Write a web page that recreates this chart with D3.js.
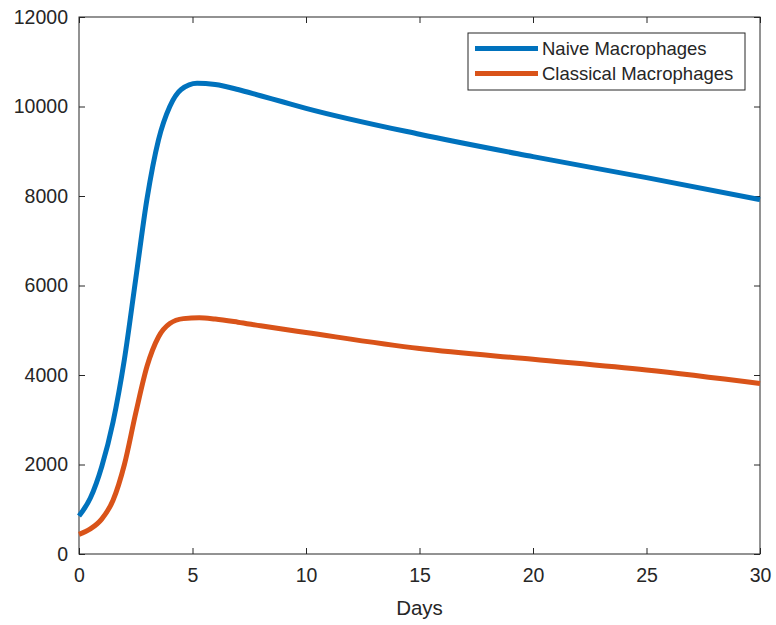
<!DOCTYPE html>
<html>
<head>
<meta charset="utf-8">
<script src="https://cdn.jsdelivr.net/npm/d3@7"></script>
<style>
  body { margin: 0; background: #fff; }
  text { font-family: "Liberation Sans", Arial, sans-serif; fill: #262626; }
</style>
</head>
<body>
<div id="chart"></div>
<script>
// ======= DATA =======
const days      = [0, 0.5, 1.0, 1.5, 2.0, 2.5, 3.0, 3.5, 4.0, 4.5, 5.2, 6.0, 7.0, 8.0, 9.0, 10, 15, 20, 25, 30];
const naive     = [850, 1250, 1950, 2950, 4350, 6150, 7950, 9250, 10000, 10380, 10520, 10490, 10380, 10240, 10100, 9960, 9380, 8880, 8410, 7920];

const daysC     = [0, 0.5, 1.0, 1.5, 2.0, 2.5, 3.0, 3.5, 4.0, 4.6, 5.3, 6.0, 7.0, 8.0, 10, 15, 20, 25, 30];
const classical = [440, 560, 780, 1200, 2000, 3150, 4200, 4850, 5150, 5260, 5280, 5250, 5180, 5100, 4950, 4590, 4350, 4110, 3810];

const xTicks = [0, 5, 10, 15, 20, 25, 30];
const yTicks = [0, 2000, 4000, 6000, 8000, 10000, 12000];

const series = [
  { name: "Naive Macrophages", color: "#0072BD", x: days, y: naive },
  { name: "Classical Macrophages", color: "#D95319", x: daysC, y: classical }
];

// ======= SVG SETUP =======
const width = 776, height = 625;
const margin = { left: 79, right: 16, top: 17, bottom: 71 };

const svg = d3.select("#chart").append("svg")
  .attr("width", width)
  .attr("height", height);

const x = d3.scaleLinear().domain([0, 30]).range([margin.left, width - margin.right]);
const y = d3.scaleLinear().domain([0, 12000]).range([height - margin.bottom, margin.top]);

// box
const axisColor = "#262626";
svg.append("rect")
  .attr("x", x(0)).attr("y", y(12000))
  .attr("width", x(30) - x(0)).attr("height", y(0) - y(12000))
  .attr("fill", "none").attr("stroke", axisColor).attr("stroke-width", 1);

// axes, ticks pointing inward
const tickLen = 6;
svg.append("g")
  .attr("transform", `translate(0,${y(0)})`)
  .call(d3.axisBottom(x).tickValues(xTicks).tickSizeInner(-tickLen).tickSizeOuter(0).tickPadding(14))
  .call(g => g.select(".domain").remove())
  .call(g => g.selectAll("line").attr("stroke", axisColor))
  .call(g => g.selectAll("text").attr("font-size", 19.5).attr("fill", axisColor));

svg.append("g")
  .attr("transform", `translate(0,${y(12000)})`)
  .call(d3.axisTop(x).tickValues(xTicks).tickSizeInner(-tickLen).tickSizeOuter(0).tickFormat(""))
  .call(g => g.select(".domain").remove())
  .call(g => g.selectAll("line").attr("stroke", axisColor));

svg.append("g")
  .attr("transform", `translate(${x(0)},0)`)
  .call(d3.axisLeft(y).tickValues(yTicks).tickSizeInner(-tickLen).tickSizeOuter(0).tickPadding(11).tickFormat(d3.format("d")))
  .call(g => g.select(".domain").remove())
  .call(g => g.selectAll("line").attr("stroke", axisColor))
  .call(g => g.selectAll("text").attr("font-size", 19.5).attr("fill", axisColor));

svg.append("g")
  .attr("transform", `translate(${x(30)},0)`)
  .call(d3.axisRight(y).tickValues(yTicks).tickSizeInner(-tickLen).tickSizeOuter(0).tickFormat(""))
  .call(g => g.select(".domain").remove())
  .call(g => g.selectAll("line").attr("stroke", axisColor));

// x label
svg.append("text")
  .attr("x", (x(0) + x(30)) / 2)
  .attr("y", 615)
  .attr("text-anchor", "middle")
  .attr("font-size", 20.5)
  .text("Days");

// ======= LINES =======
const line = d3.line().curve(d3.curveMonotoneX);

series.forEach(s => {
  svg.append("path")
    .attr("d", line(s.x.map((d, i) => [x(d), y(s.y[i])])))
    .attr("fill", "none")
    .attr("stroke", s.color)
    .attr("stroke-width", 5)
    .attr("stroke-linejoin", "round");
});

// ======= LEGEND =======
const legend = svg.append("g").attr("transform", "translate(468,33)");
legend.append("rect")
  .attr("width", 277).attr("height", 57)
  .attr("fill", "#fff").attr("stroke", axisColor).attr("stroke-width", 1);

series.forEach((s, i) => {
  const ly = 15.5 + i * 25;
  legend.append("line")
    .attr("x1", 7).attr("x2", 70)
    .attr("y1", ly).attr("y2", ly)
    .attr("stroke", s.color).attr("stroke-width", 5);
  legend.append("text")
    .attr("x", 74).attr("y", ly)
    .attr("dy", "0.35em")
    .attr("font-size", 18.5)
    .text(s.name);
});
</script>
</body>
</html>
